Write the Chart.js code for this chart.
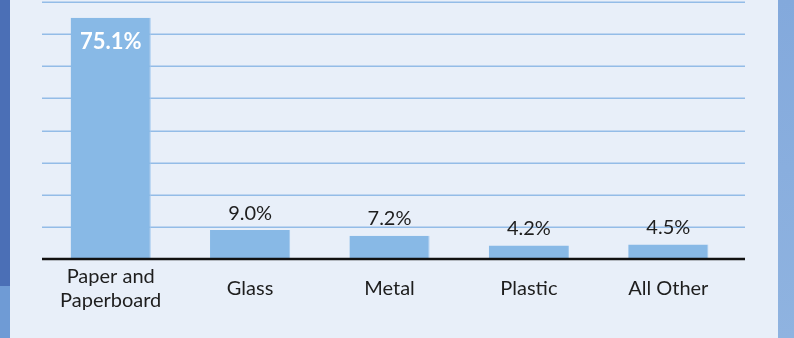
<!DOCTYPE html>
<html>
<head>
<meta charset="utf-8">
<script src="https://cdn.jsdelivr.net/npm/chart.js@4/dist/chart.umd.min.js"></script>
<style>
html,body{margin:0;padding:0;background:#e8eff9;}
#wrap{position:relative;width:794px;height:338px;overflow:hidden;}
#leftTop{position:absolute;left:0;top:0;width:10px;height:286px;background:#4b6fb6;}
#leftBot{position:absolute;left:0;top:286px;width:10px;height:52px;background:#6f9bd5;}
#right{position:absolute;left:778px;top:0;width:16px;height:338px;background:linear-gradient(#83a9dc,#8fb3e0);}
canvas{position:absolute;left:0;top:0;}
</style>
</head>
<body>
<div id="wrap">
<div id="leftTop"></div>
<div id="leftBot"></div>
<div id="right"></div>
<canvas id="shareChart" width="794" height="338"></canvas>
</div>
<script>

const categories = [["Paper and","Paperboard"],"Glass","Metal","Plastic","All Other"];
const shares = [75.1,9.0,7.2,4.2,4.5];
const valueLabels = ["75.1%","9.0%","7.2%","4.2%","4.5%"];
const gridValues = [10,20,30,40,50,60,70,80];

// gridlines run a bit past the last category, so draw them by hand
const gridPlugin = {
id:"grid",
beforeDatasetsDraw(chart){
const ctx = chart.ctx;
const y = chart.scales.y;
ctx.save();
ctx.strokeStyle = "#93bce7";
ctx.lineWidth = 1.6;
gridValues.forEach(v => {
const py = Math.round(y.getPixelForValue(v)) + 0.2;
ctx.beginPath();
ctx.moveTo(42,py);
ctx.lineTo(745,py);
ctx.stroke();
});
ctx.restore();
},
afterDatasetsDraw(chart){
const ctx = chart.ctx;
const y = chart.scales.y;
const meta = chart.getDatasetMeta(0);
ctx.save();
// baseline
const py = y.getPixelForValue(0);
ctx.strokeStyle = "#111";
ctx.lineWidth = 2.6;
ctx.beginPath();
ctx.moveTo(42,py);
ctx.lineTo(745,py);
ctx.stroke();
// value labels
ctx.textAlign = "center";
ctx.textBaseline = "middle";
meta.data.forEach((bar,i) => {
if(i === 0){
ctx.fillStyle = "#ffffff";
ctx.font = "bold 22px Lato";
ctx.fillText(valueLabels[i], bar.x, bar.y + 24);
}else{
ctx.fillStyle = "#1e1e1e";
ctx.font = "20px Lato";
ctx.fillText(valueLabels[i], bar.x, bar.y - 17);
}
});
ctx.restore();
}
};

new Chart("shareChart",{
type:"bar",
data:{
labels:categories,
datasets:[{
data:shares,
backgroundColor:"#88b9e6",
borderColor:"#a2c9ee",
borderWidth:{left:0,right:1,top:0,bottom:0},
barPercentage:0.575,
categoryPercentage:1
}]
},
options:{
responsive:false,
animation:false,
events:[],
layout:{padding:{left:41,right:56,top:2,bottom:0}},
plugins:{legend:{display:false},tooltip:{enabled:false}},
scales:{
x:{
grid:{display:false,drawTicks:false},
border:{display:false},
ticks:{
color:"#1e1e1e",
font:{family:"Lato",size:20,lineHeight:1.2},
padding:18,
crossAlign:"center",
maxRotation:0,
autoSkip:false
},
afterFit(axis){ axis.height = 79; }
},
y:{
display:false,
min:0,
max:80
}
}
},
plugins:[gridPlugin]
});

</script>
</body>
</html>
